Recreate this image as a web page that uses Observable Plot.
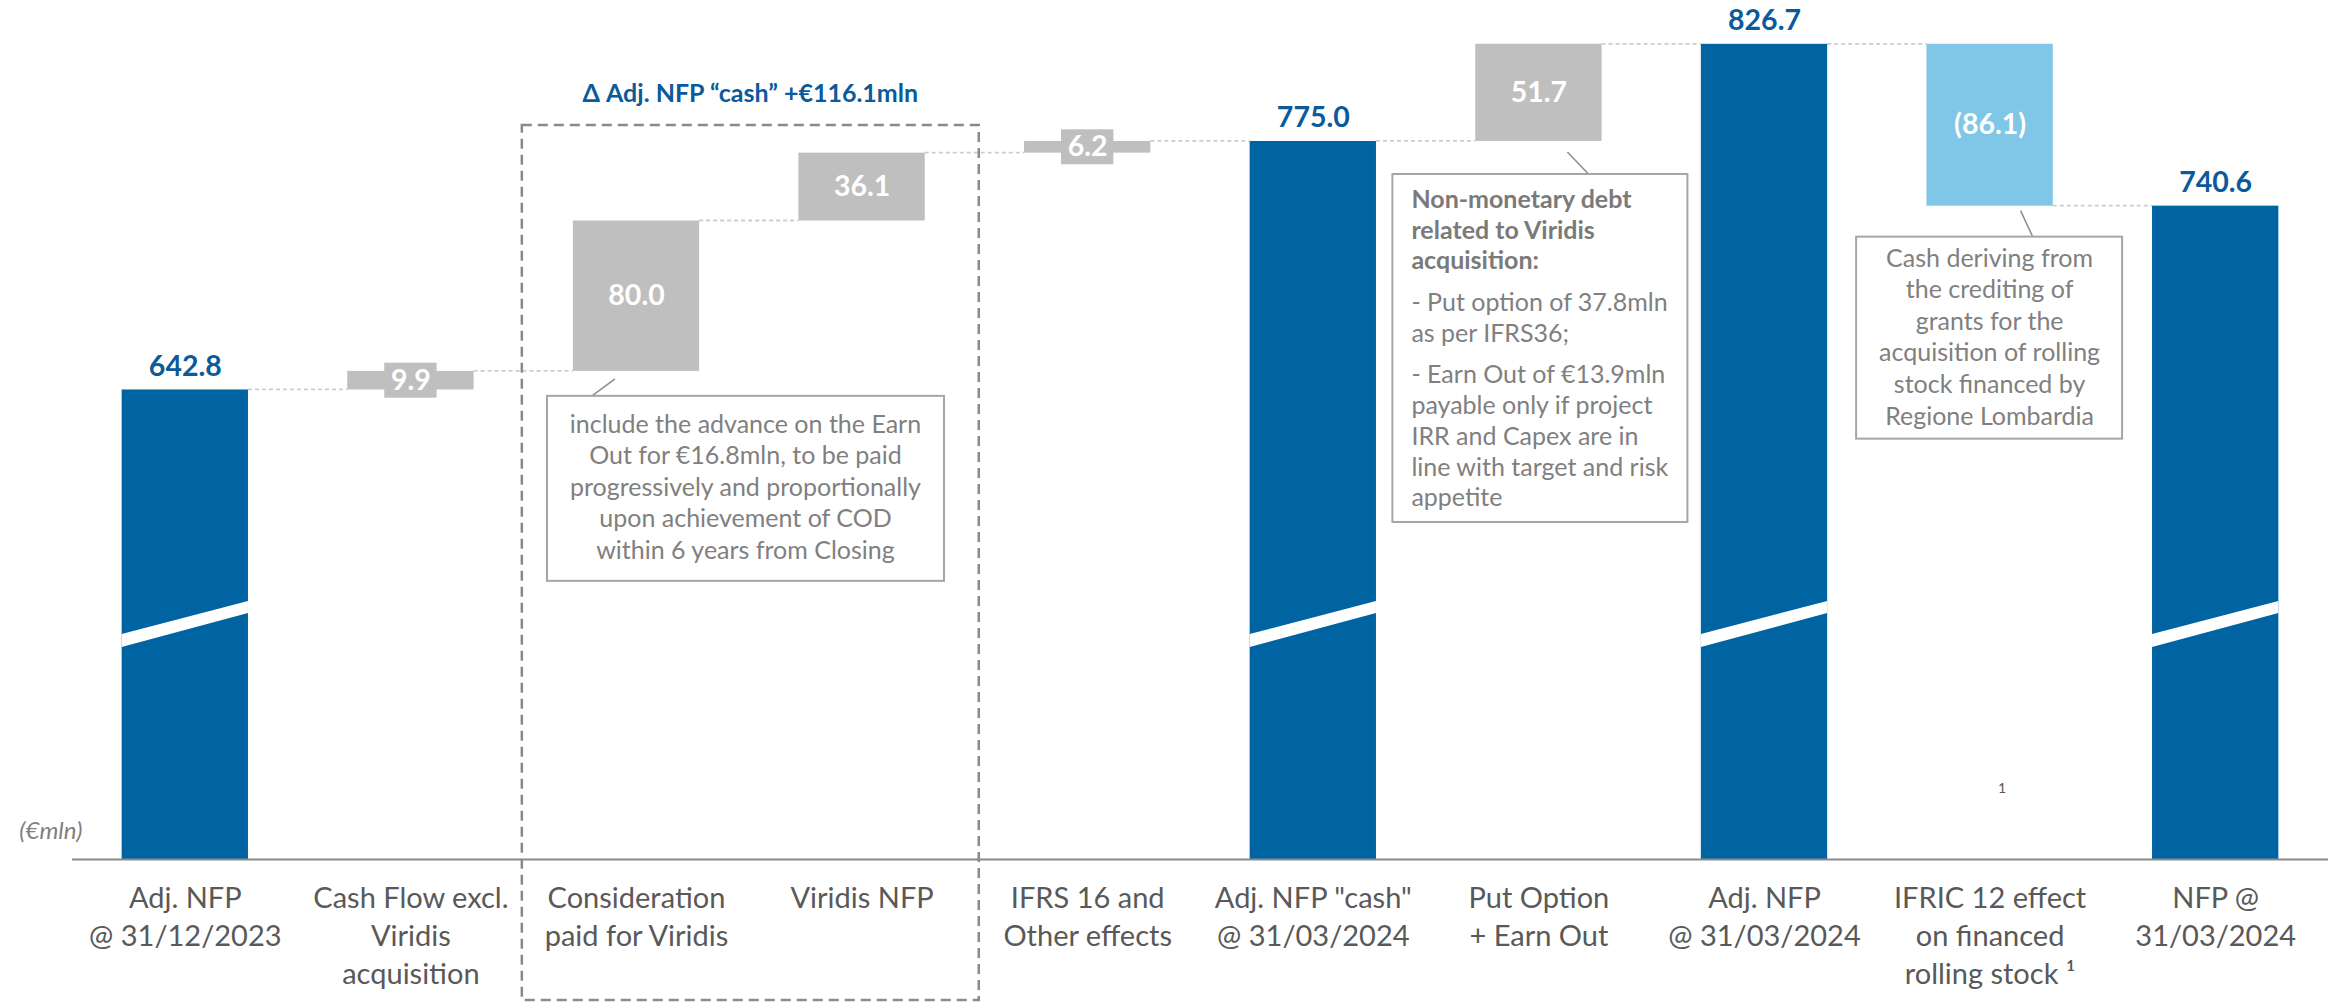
<!DOCTYPE html>
<html>
<head>
<meta charset="utf-8">
<script src="https://cdn.jsdelivr.net/npm/d3@7"></script>
<script src="https://cdn.jsdelivr.net/npm/@observablehq/plot@0.6"></script>
<style>
  html, body { margin: 0; padding: 0; background: #ffffff; }
  #chart svg { display: block; }
</style>
</head>
<body>
<div id="chart"></div>
<script>
// ---------------- data ----------------
const categories = [
  "Adj. NFP\n@ 31/12/2023",
  "Cash Flow excl.\nViridis\nacquisition",
  "Consideration\npaid for Viridis",
  "Viridis NFP",
  "IFRS 16 and\nOther effects",
  "Adj. NFP \"cash\"\n@ 31/03/2024",
  "Put Option\n+ Earn Out",
  "Adj. NFP\n@ 31/03/2024",
  "IFRIC 12 effect\non financed\nrolling stock \u00B9",
  "NFP @\n31/03/2024"
];
const barKinds = ["total", "increase", "increase", "increase", "increase", "total", "increase", "total", "decrease", "total"];
const barValues = [642.8, 9.9, 80.0, 36.1, 6.2, 775.0, 51.7, 826.7, -86.1, 740.6];
const valueLabels = ["642.8", "9.9", "80.0", "36.1", "6.2", "775.0", "51.7", "826.7", "(86.1)", "740.6"];
const axisBreakValue = 393;   // broken value axis starts here
const axisTopValue = 850;
const groupTitle = "\u0394 Adj. NFP \u201Ccash\u201D +\u20AC116.1mln";
const groupFirst = 2, groupLast = 3;
const unitLabel = "(\u20ACmln)";
const footnoteMark = "1";

const note1Lines = [
  "include the advance on the Earn",
  "Out for \u20AC16.8mln, to be paid",
  "progressively and proportionally",
  "upon achievement of COD",
  "within 6 years from Closing"
];
const note2Title = ["Non-monetary debt", "related to Viridis", "acquisition:"];
const note2Put = ["- Put option of 37.8mln", "as per IFRS36;"];
const note2Earn = ["- Earn Out of \u20AC13.9mln", "payable only if project", "IRR and Capex are in", "line with target and risk", "appetite"];
const note3Lines = [
  "Cash deriving from",
  "the crediting of",
  "grants for the",
  "acquisition of rolling",
  "stock financed by",
  "Regione Lombardia"
];

// ---------------- derived table ----------------
const colors = {total: "#0064a2", increase: "#bfbfbf", decrease: "#80c6e6"};
let running = 0;
const steps = categories.map((c, i) => {
  let start, end;
  if (barKinds[i] === "total") { start = axisBreakValue; end = barValues[i]; running = barValues[i]; }
  else { start = running; end = running + barValues[i]; running = end; }
  return {category: c, kind: barKinds[i], start, end, level: running, label: valueLabels[i],
          mid: (start + end) / 2, value: barValues[i]};
});
const totals = steps.filter(d => d.kind === "total");
const deltas = steps.filter(d => d.kind !== "total");
const thinDeltas = deltas.filter(d => Math.abs(d.value) < 15);

// ---------------- custom render marks ----------------
function connectorMark(index, scales) {
  const {x, y} = scales;
  const bw = x.bandwidth();
  const g = d3.create("svg:g");
  for (let i = 0; i < steps.length - 1; i++) {
    const yy = y(steps[i].level);
    g.append("line")
      .attr("x1", x(steps[i].category) + bw).attr("x2", x(steps[i + 1].category))
      .attr("y1", yy).attr("y2", yy)
      .attr("stroke", "#cdcdcd").attr("stroke-width", 1.8).attr("stroke-dasharray", "4,3");
  }
  return g.node();
}

function breakMark(index, scales) {
  const {x, y} = scales;
  const bw = x.bandwidth();
  const base = y(axisBreakValue);
  const g = d3.create("svg:g");
  totals.forEach(d => {
    const x0 = x(d.category), x1 = x0 + bw;
    g.append("path")
      .attr("d", `M${x0},${base - 225}L${x1},${base - 258}L${x1},${base - 246}L${x0},${base - 212}Z`)
      .attr("fill", "#ffffff");
  });
  return g.node();
}

function annotationMark(index, scales, values, dimensions) {
  const {x, y} = scales;
  const bw = x.bandwidth();
  const g = d3.create("svg:g");
  const boxStroke = "#a6a6a6", textFill = "#808080", leader = "#8c8c8c";

  // dashed group frame + title
  const gx0 = x(categories[groupFirst]) - 51;
  const gx1 = x(categories[groupLast]) + bw + 54;
  g.append("rect").attr("x", gx0).attr("y", 125).attr("width", gx1 - gx0).attr("height", dimensions.height - 3 - 125)
    .attr("fill", "none").attr("stroke", "#8a8a8a").attr("stroke-width", 2.5).attr("stroke-dasharray", "10,6");
  g.append("text").attr("x", (gx0 + gx1) / 2).attr("y", 102).attr("text-anchor", "middle")
    .attr("font-size", 25).attr("font-weight", "bold").attr("fill", "#0b5a9a").text(groupTitle);

  function box(x0, y0, x1, y1) {
    g.append("rect").attr("x", x0).attr("y", y0).attr("width", x1 - x0).attr("height", y1 - y0)
      .attr("fill", "#ffffff").attr("stroke", boxStroke).attr("stroke-width", 2);
  }
  function line(ax, ay, bx, by) {
    g.append("line").attr("x1", ax).attr("y1", ay).attr("x2", bx).attr("y2", by)
      .attr("stroke", leader).attr("stroke-width", 1.5);
  }
  function lines(arr, tx, ty, lh, anchor, bold) {
    arr.forEach((t, k) => {
      g.append("text").attr("x", tx).attr("y", ty + k * lh).attr("text-anchor", anchor)
        .attr("font-size", 25).attr("font-weight", bold ? "bold" : "normal")
        .attr("fill", bold ? "#7a7a7a" : textFill).text(t);
    });
  }

  // note 1 : consideration paid for Viridis
  {
    const cx = x(categories[2]) + bw / 2, ay = y(steps[2].start);
    line(cx - 21, ay + 8, cx - 44, ay + 25);
    box(cx - 89, ay + 25, cx + 308, ay + 210);
    lines(note1Lines, cx + 109.5, ay + 62, 31.5, "middle", false);
  }
  // note 2 : put option + earn out
  {
    const cx = x(categories[6]) + bw / 2, ay = y(steps[6].start);
    line(cx + 29, ay + 11, cx + 50, ay + 33);
    box(cx - 146, ay + 33, cx + 149, ay + 381);
    const lh = 30.7, gap = 11;
    let ty = ay + 67;
    lines(note2Title, cx - 127, ty, lh, "start", true);
    ty += note2Title.length * lh + gap;
    lines(note2Put, cx - 127, ty, lh, "start", false);
    ty += note2Put.length * lh + gap;
    lines(note2Earn, cx - 127, ty, lh, "start", false);
  }
  // note 3 : IFRIC 12
  {
    const cx = x(categories[8]) + bw / 2, ay = y(steps[8].end);
    line(cx + 31, ay + 5, cx + 43, ay + 31);
    box(cx - 133.5, ay + 31, cx + 132.5, ay + 233);
    lines(note3Lines, cx, ay + 61, 31.6, "middle", false);
  }
  return g.node();
}

// ---------------- plot ----------------
const chart = Plot.plot({
  width: 2338,
  height: 1003,
  marginTop: 0,
  marginBottom: 144,
  marginLeft: 72,
  marginRight: 10,
  style: {fontFamily: "Lato, 'Open Sans', sans-serif", background: "#ffffff", overflow: "visible"},
  x: {domain: categories, paddingInner: 0.44, paddingOuter: 0.22, round: false, axis: null},
  y: {domain: [axisBreakValue, axisTopValue], axis: null},
  marks: [
    connectorMark,
    Plot.barY(steps, {x: "category", y1: "start", y2: "end", fill: d => colors[d.kind]}),
    breakMark,
    Plot.ruleY([axisBreakValue], {stroke: "#8a8a8a", strokeWidth: 2}),
    // label plates on thin bars
    Plot.barY(thinDeltas, {x: "category", y1: "mid", y2: "mid", insetTop: -17.5, insetBottom: -17.5,
      insetLeft: 37, insetRight: 37, fill: "#bfbfbf"}),
    // value labels
    Plot.text(totals, {x: "category", y: "end", text: "label", lineAnchor: "bottom", dy: -14,
      fill: "#0b5a9a", fontWeight: "bold", fontSize: 28.5}),
    Plot.text(deltas, {x: "category", y: "mid", text: "label", fill: "#ffffff", fontWeight: "bold", fontSize: 28.5}),
    // category labels
    Plot.text(steps, {x: "category", text: "category", frameAnchor: "bottom", lineAnchor: "top", dy: 22,
      fontSize: 29, lineHeight: 1.31, fill: "#595959"}),
    // unit label
    Plot.text([unitLabel], {frameAnchor: "bottom-left", text: d => d, textAnchor: "end", lineAnchor: "bottom",
      dx: 10, dy: -21, fontStyle: "italic", fontSize: 24, fill: "#808080"}),
    // stray footnote mark inside plot area
    Plot.text([footnoteMark], {x: () => categories[8], text: d => d, frameAnchor: "bottom", lineAnchor: "bottom",
      dx: 12, dy: -67, fontSize: 14, fill: "#595959"}),
    annotationMark
  ]
});
document.getElementById("chart").appendChild(chart);
</script>
</body>
</html>
